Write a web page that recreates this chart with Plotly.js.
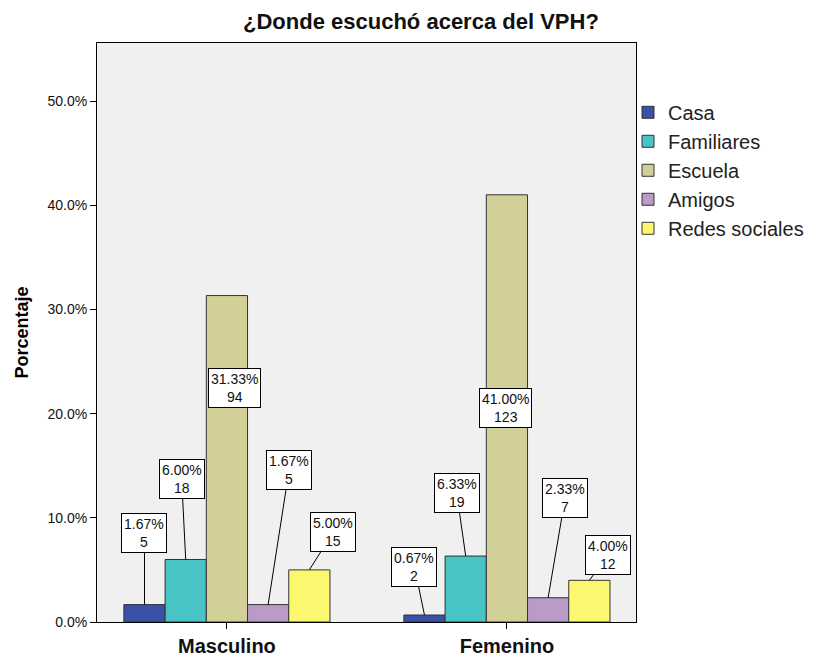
<!DOCTYPE html>
<html>
<head>
<meta charset="utf-8">
<script src="https://cdn.plot.ly/plotly-3.0.1.min.js"></script>
<style>html,body{margin:0;padding:0;background:#fff;}#chart{width:817px;height:658px;}</style>
</head>
<body>
<div id="chart"></div>
<script>
var categories = ['Masculino', 'Femenino'];
var seriesNames = ['Casa', 'Familiares', 'Escuela', 'Amigos', 'Redes sociales'];
var pctCasa = [1.67, 0.67];
var pctFamiliares = [6.00, 6.33];
var pctEscuela = [31.33, 41.00];
var pctAmigos = [1.67, 2.33];
var pctRedes = [5.00, 4.00];
var cntCasa = [5, 2];
var cntFamiliares = [18, 19];
var cntEscuela = [94, 123];
var cntAmigos = [5, 7];
var cntRedes = [15, 12];
var yTicks = [0, 10, 20, 30, 40, 50];
var yTickText = ['0.0%', '10.0%', '20.0%', '30.0%', '40.0%', '50.0%'];

var pcts = [pctCasa, pctFamiliares, pctEscuela, pctAmigos, pctRedes];
var cnts = [cntCasa, cntFamiliares, cntEscuela, cntAmigos, cntRedes];
var colors = ['#3a51a8', '#48c3c6', '#d3cf98', '#b99bc9', '#fbf870'];

// label box offsets (px) relative to bar top: [series][category]
var labelOffsets = [
  [[0, -72], [-10, -48]],
  [[-4, -80], [-9, -63]],
  [[8, 92], [-1, 213]],
  [[21, -135], [17, -100]],
  [[24, -38], [19, -25]]
];

var FONT = 'Liberation Sans, Arial, sans-serif';
var bargap = 0.264;
var barW = (1 - bargap) / seriesNames.length;

var traces = seriesNames.map(function (name, i) {
  return {
    type: 'bar',
    name: name,
    x: categories,
    y: pcts[i],
    marker: {color: colors[i], line: {color: '#333333', width: 1}},
    hoverinfo: 'none'
  };
});

var annotations = [];
seriesNames.forEach(function (name, i) {
  categories.forEach(function (cat, j) {
    var inside = labelOffsets[i][j][1] > 0;
    annotations.push({
      x: j + (i - (seriesNames.length - 1) / 2) * barW,
      y: pcts[i][j],
      xref: 'x', yref: 'y',
      text: pcts[i][j].toFixed(2) + '%<br>' + cnts[i][j],
      showarrow: true,
      arrowhead: 0,
      arrowwidth: 1,
      arrowcolor: inside ? 'rgba(0,0,0,0)' : '#000000',
      standoff: 0,
      ax: labelOffsets[i][j][0],
      ay: labelOffsets[i][j][1],
      bgcolor: '#ffffff',
      bordercolor: '#000000',
      borderwidth: 1,
      borderpad: 2,
      font: {family: FONT, size: 14, color: '#111111'}
    });
  });
});

var layout = {
  width: 817,
  height: 658,
  margin: {l: 97, r: 181, t: 43, b: 36, autoexpand: false},
  paper_bgcolor: '#ffffff',
  plot_bgcolor: '#f0f0f0',
  barmode: 'group',
  bargap: bargap,
  bargroupgap: 0,
  showlegend: true,
  title: {
    text: '<b>¿Donde escuchó acerca del VPH?</b>',
    x: 0.601, xref: 'paper', xanchor: 'center',
    y: 20, yref: 'container', yanchor: 'middle',
    font: {family: FONT, size: 22, color: '#111111'}
  },
  xaxis: {
    type: 'category',
    range: [-0.464, 1.461],
    showline: true, linecolor: '#000000', linewidth: 1, mirror: true,
    ticks: 'outside', ticklen: 6, tickcolor: '#000000',
    showgrid: false, zeroline: false,
    tickfont: {family: FONT, size: 20, color: '#111111', weight: 'bold'}
  },
  yaxis: {
    range: [0, 55.57],
    tickvals: yTicks,
    ticktext: yTickText,
    showline: true, linecolor: '#000000', linewidth: 1, mirror: true,
    ticks: 'outside', ticklen: 6, tickcolor: '#000000',
    showgrid: false, zeroline: false,
    tickfont: {family: FONT, size: 14, color: '#111111'},
    title: {text: '<b>Porcentaje</b>', standoff: 14,
      font: {family: FONT, size: 18, color: '#000000'}}
  },
  legend: {
    x: (628 - 97) / 539, xref: 'paper', xanchor: 'left',
    y: 0.914, yanchor: 'top',
    bgcolor: 'rgba(0,0,0,0)',
    borderwidth: 0,
    traceorder: 'normal',
    itemclick: false,
    tracegroupgap: 0,
    font: {family: FONT, size: 20, color: '#222222'}
  },
  annotations: annotations
};

Plotly.newPlot('chart', traces, layout, {staticPlot: true, displayModeBar: false});
</script>
</body>
</html>
